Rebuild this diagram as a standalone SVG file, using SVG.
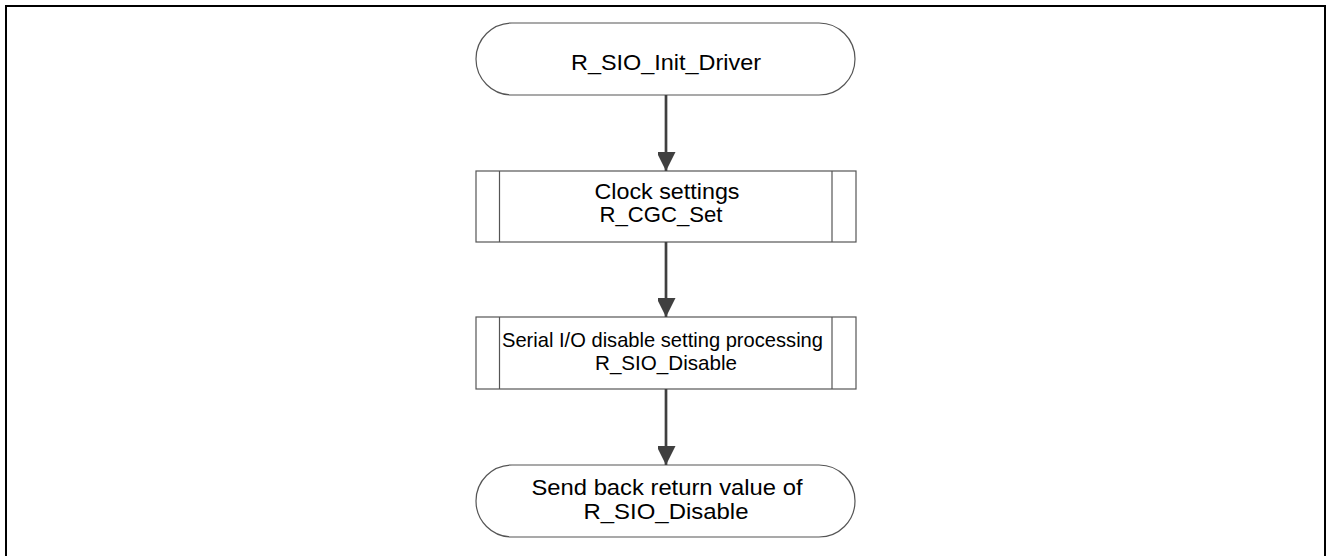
<svg xmlns="http://www.w3.org/2000/svg" width="1326" height="556" viewBox="0 0 1326 556">
<style>
.shape{fill:#ffffff;stroke:#555555;stroke-width:1.2}
.bar{stroke:#555555;stroke-width:1.2}
.txt{font-family:"Liberation Sans",Arial,sans-serif;font-size:22px;fill:#000000;text-anchor:middle}
.sm{font-size:21px}
.conn{stroke:#404040;stroke-width:2.7;fill:none}
.frame{stroke:#000000;stroke-width:2;fill:none}
</style>
<defs>
<marker id="arr" markerWidth="19" markerHeight="18" refX="19" refY="9.5" orient="auto" markerUnits="userSpaceOnUse">
<path d="M0,0 L19,9.5 L0,19 Z" fill="#404040"/>
</marker>
</defs>
<rect width="1326" height="556" fill="#ffffff"/>
<path class="frame" d="M6,556 V6 H1326"/>
<path class="frame" d="M1325,6 V556"/>
<g id="start">
<rect class="shape" x="476" y="23" width="379" height="72" rx="36" ry="36"/>
<text class="txt" x="666" y="70" textLength="190" lengthAdjust="spacingAndGlyphs">R_SIO_Init_Driver</text>
</g>
<g id="clock">
<rect class="shape" x="476" y="171" width="380" height="71"/>
<line class="bar" x1="499.5" y1="171" x2="499.5" y2="242"/>
<line class="bar" x1="832" y1="171" x2="832" y2="242"/>
<text class="txt" x="667" y="199" textLength="145" lengthAdjust="spacingAndGlyphs">Clock settings</text>
<text class="txt" x="661" y="222" textLength="123" lengthAdjust="spacingAndGlyphs">R_CGC_Set</text>
</g>
<g id="disable">
<rect class="shape" x="476" y="317" width="380" height="72"/>
<line class="bar" x1="499.5" y1="317" x2="499.5" y2="389"/>
<line class="bar" x1="832" y1="317" x2="832" y2="389"/>
<text class="txt sm" x="662.5" y="347" textLength="321" lengthAdjust="spacingAndGlyphs">Serial I/O disable setting processing</text>
<text class="txt sm" x="666" y="370" textLength="142" lengthAdjust="spacingAndGlyphs">R_SIO_Disable</text>
</g>
<g id="end">
<rect class="shape" x="476" y="465" width="379" height="72" rx="36" ry="36"/>
<text class="txt" x="667" y="495" textLength="271" lengthAdjust="spacingAndGlyphs">Send back return value of</text>
<text class="txt" x="666" y="519" textLength="165" lengthAdjust="spacingAndGlyphs">R_SIO_Disable</text>
</g>
<g id="connectors">
<line class="conn" x1="666" y1="95" x2="666" y2="171" marker-end="url(#arr)"/>
<line class="conn" x1="666" y1="242" x2="666" y2="317" marker-end="url(#arr)"/>
<line class="conn" x1="666" y1="389" x2="666" y2="465" marker-end="url(#arr)"/>
</g>
</svg>
